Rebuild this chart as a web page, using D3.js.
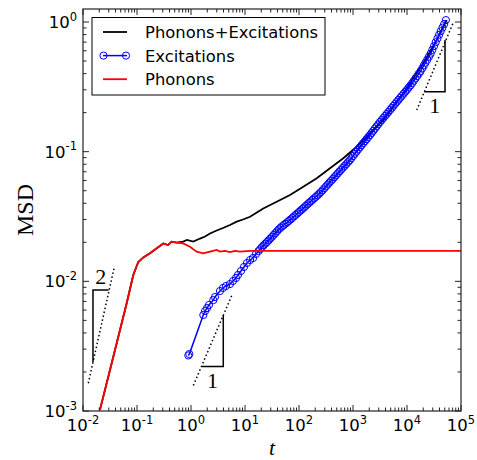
<!DOCTYPE html>
<html>
<head>
<meta charset="utf-8">
<script src="https://cdn.jsdelivr.net/npm/d3@7"></script>
<style>
  body { margin: 0; background: #fff; }
  svg text { font-family: 'DejaVu Sans', sans-serif; }
</style>
</head>
<body>
<svg id="chart" width="477" height="460"></svg>
<script>
// --- data ---
const phononsT = [0.0206, 0.0316, 0.0484, 0.0644, 0.0853, 0.1056, 0.1309, 0.174, 0.232, 0.307, 0.375, 0.438, 0.541,
  0.717, 0.957, 1.27, 1.68, 2.25, 3.00, 3.44, 4.25, 5.27, 6.52, 8.07, 12.4, 100000];
const phononsMsd = [0.00102, 0.00207, 0.00422, 0.00678, 0.0112, 0.0141, 0.01531, 0.01644, 0.01799, 0.01958, 0.01905, 0.02023, 0.01991,
  0.01963, 0.01849, 0.01695, 0.01644, 0.01695, 0.01746, 0.01695, 0.0172, 0.01683, 0.0172, 0.01695, 0.0172, 0.0172];

// shares the phonon curve up to t ~ 0.54
const bothT = [0.0206, 0.0316, 0.0484, 0.0644, 0.0853, 0.1056, 0.1309, 0.174, 0.232, 0.307, 0.375, 0.438, 0.541,
  0.717, 0.84, 1.10, 1.47, 1.82, 2.25, 2.99, 3.91, 5.27, 7.02, 9.18, 12.4, 21.8, 38.6, 68.1, 120, 213, 375, 661,
  1172, 2066, 3642, 8531, 20040, 35480, 54330];
const bothMsd = [0.00102, 0.00207, 0.00422, 0.00678, 0.0112, 0.0141, 0.01531, 0.01644, 0.01799, 0.01958, 0.01905, 0.02023, 0.01991,
  0.02028, 0.02084, 0.02023, 0.02138, 0.02218, 0.02339, 0.02466, 0.02578, 0.02719, 0.02884, 0.02999, 0.0315, 0.03645, 0.04115, 0.04632,
  0.0537, 0.06232, 0.07447, 0.08893, 0.1092, 0.1387, 0.1754, 0.2818, 0.4799, 0.7261, 1.035];

const excitationsT = [0.891, 0.931, 1.69, 1.82, 1.98, 2.15, 2.59, 2.78, 3.44, 3.91, 4.45, 5.27, 6.00, 6.81, 7.41, 8.43, 9.58,
  10.9, 12.4, 14.1, 16.0,
  17.78, 19.11, 20.54, 22.07, 23.71, 25.48, 27.38, 29.43, 31.62, 33.98, 36.52, 39.24, 42.17, 45.32, 48.70, 52.33,
  56.23, 60.43, 64.94, 69.78, 74.99, 80.59, 86.60, 93.06, 100, 107.5, 115.5, 124.1, 133.4, 143.3, 154.0, 165.5,
  177.8, 191.1, 205.4, 220.7, 237.1, 254.8, 273.8, 294.3, 316.2, 339.8, 365.2, 392.4, 421.7, 453.2, 487.0, 523.3,
  562.3, 604.3, 649.4, 697.8, 749.9, 805.9, 866.0, 930.6, 1000, 1075, 1155, 1241, 1334, 1433, 1540, 1655, 1778,
  1911, 2054, 2207, 2371, 2548, 2738, 2943, 3162, 3398, 3652, 3924, 4217, 4532, 4870, 5233, 5623, 6043, 6494,
  6978, 7499, 8059, 8660, 9306, 10000, 10750, 11550, 12410, 13340, 14330, 15400, 16550, 17780, 19110, 20540,
  22070, 23710, 25480, 27380, 29430, 31620, 33980, 36520, 39240, 42170, 45320, 48700, 52500];
const excitationsMsd = [0.00268, 0.00275, 0.0055, 0.0059, 0.00622, 0.00657, 0.00717, 0.00757, 0.00842, 0.00889, 0.00921,
  0.00953, 0.01006, 0.01062, 0.0112, 0.01202, 0.01291, 0.01385, 0.0146, 0.01513, 0.01626,
  0.0171, 0.01772, 0.01837, 0.01893, 0.0195, 0.02009, 0.0207, 0.02138, 0.02208, 0.0228, 0.02355, 0.02435, 0.02518,
  0.02586, 0.02655, 0.0272, 0.02786, 0.02854, 0.02924, 0.03002, 0.03083, 0.03166, 0.03251, 0.03338, 0.03428, 0.0352,
  0.03614, 0.03715, 0.03819, 0.03926, 0.04036, 0.04145, 0.04256, 0.0437, 0.04487, 0.04613, 0.04742, 0.04892, 0.05047,
  0.05218, 0.05395, 0.05578, 0.05768, 0.05957, 0.06152, 0.06361, 0.06577, 0.068, 0.07031, 0.07269, 0.07516, 0.07762,
  0.08017, 0.08289, 0.0857, 0.08902, 0.09247, 0.09616, 0.1, 0.1039, 0.1079, 0.1119, 0.1161, 0.1203, 0.1247, 0.1293,
  0.134, 0.1393, 0.1449, 0.1507, 0.1567, 0.1629, 0.1694, 0.1756, 0.182, 0.1886, 0.1954, 0.2025, 0.2099, 0.2178,
  0.2259, 0.2341, 0.2427, 0.2515, 0.2606, 0.2701, 0.2799, 0.2901, 0.3006, 0.3119, 0.3236, 0.3373, 0.3516, 0.3669,
  0.3828, 0.3995, 0.4169, 0.4391, 0.4624, 0.4864, 0.5117, 0.5402, 0.5702, 0.6095, 0.6516, 0.6974, 0.7464, 0.7961,
  0.8492, 0.9047, 0.9638, 1.035];

// slope guides: dotted line ends, then the triangle corner points
const slope2Line = [[0.01254, 0.001637], [0.0375, 0.01259]];
const slope2Tri = [[0.01531, 0.00239], [0.01531, 0.00857], [0.0298, 0.00857]];
const slope1LowLine = [[1.104, 0.001574], [5.74, 0.00785]];
const slope1LowTri = [[1.58, 0.0022], [3.96, 0.0022], [3.96, 0.0055]];
const slope1HighLine = [[15140, 0.2094], [72600, 1.0]];
const slope1HighTri = [[20890, 0.2897], [50580, 0.2897], [50580, 0.7261]];

const xExps = [-2, -1, 0, 1, 2, 3, 4, 5];
const yExps = [-3, -2, -1, 0];
const legendItems = ['Phonons+Excitations', 'Excitations', 'Phonons'];

// --- layout ---
const w = 477;
const h = 460;
const margin = { top: 9, right: 16, bottom: 49, left: 83 };
const x0 = margin.left, x1 = w - margin.right;
const y0 = h - margin.bottom, y1 = margin.top;

const xScale = d3.scaleLog().domain([1e-2, 1e5]).range([x0, x1]);
const yScale = d3.scaleLog().domain([1e-3, 1.26]).range([y0, y1]);

const svg = d3.select('#chart');

svg.append('defs').append('clipPath')
  .attr('id', 'plot-clip')
  .append('rect')
  .attr('x', x0).attr('y', y1)
  .attr('width', x1 - x0).attr('height', y0 - y1);

const zip = (a, b) => a.map((d, i) => [d, b[i]]);
const line = d3.line()
  .x(d => xScale(d[0]))
  .y(d => yScale(d[1]));

const plot = svg.append('g').attr('clip-path', 'url(#plot-clip)');

plot.append('path')
  .datum(zip(bothT, bothMsd))
  .attr('d', line)
  .attr('fill', 'none')
  .attr('stroke', '#000')
  .attr('stroke-width', 1.8);

const excData = zip(excitationsT, excitationsMsd);
plot.append('path')
  .datum(excData)
  .attr('d', line)
  .attr('fill', 'none')
  .attr('stroke', '#0000ff')
  .attr('stroke-width', 1.5);

plot.selectAll('circle.exc')
  .data(excData)
  .enter()
  .append('circle')
  .attr('class', 'exc')
  .attr('cx', d => xScale(d[0]))
  .attr('cy', d => yScale(d[1]))
  .attr('r', 3.6)
  .attr('fill', 'none')
  .attr('stroke', '#0000ff')
  .attr('stroke-width', 1);

plot.append('path')
  .datum(zip(phononsT, phononsMsd))
  .attr('d', line)
  .attr('fill', 'none')
  .attr('stroke', '#ff0000')
  .attr('stroke-width', 1.8);

// slope guides
[slope2Line, slope1LowLine, slope1HighLine].forEach(seg => {
  plot.append('path')
    .datum(seg)
    .attr('d', line)
    .attr('fill', 'none')
    .attr('stroke', '#000')
    .attr('stroke-width', 1.5)
    .attr('stroke-dasharray', '1.5,2.5');
});
[slope2Tri, slope1LowTri, slope1HighTri].forEach(tri => {
  plot.append('path')
    .datum(tri)
    .attr('d', line)
    .attr('fill', 'none')
    .attr('stroke', '#000')
    .attr('stroke-width', 1.5);
});

const serif = "'Liberation Serif', 'DejaVu Serif', serif";
const slopeLabels = [
  { text: '2', x: (xScale(slope2Tri[1][0]) + xScale(slope2Tri[2][0])) / 2, y: yScale(slope2Tri[1][1]) - 6 },
  { text: '1', x: (xScale(slope1LowTri[0][0]) + xScale(slope1LowTri[1][0])) / 2, y: yScale(slope1LowTri[0][1]) + 21 },
  { text: '1', x: (xScale(slope1HighTri[0][0]) + xScale(slope1HighTri[1][0])) / 2, y: yScale(slope1HighTri[0][1]) + 21 }
];
svg.selectAll('text.slope')
  .data(slopeLabels)
  .enter()
  .append('text')
  .attr('class', 'slope')
  .attr('x', d => d.x)
  .attr('y', d => d.y)
  .attr('text-anchor', 'middle')
  .style('font-family', serif)
  .style('font-size', '22px')
  .text(d => d.text);

// ticks on all four sides, pointing inward
const ticks = svg.append('g').attr('stroke', '#222').attr('stroke-width', 1);
const minorOf = (exps, lo, hi) => {
  const out = [];
  exps.forEach(e => [2, 3, 4, 5, 6, 7, 8, 9].forEach(m => {
    const v = m * Math.pow(10, e);
    if (v > lo && v < hi) out.push(v);
  }));
  return out;
};
const xMinor = minorOf(xExps, 1e-2, 1e5);
const yMinor = minorOf(yExps, 1e-3, 1.26);

xExps.map(e => [Math.pow(10, e), 6]).concat(xMinor.map(v => [v, 3.5])).forEach(([v, len]) => {
  const px = xScale(v);
  ticks.append('line').attr('x1', px).attr('x2', px).attr('y1', y0).attr('y2', y0 - len);
  ticks.append('line').attr('x1', px).attr('x2', px).attr('y1', y1).attr('y2', y1 + len);
});
yExps.map(e => [Math.pow(10, e), 6]).concat(yMinor.map(v => [v, 3.5])).forEach(([v, len]) => {
  const py = yScale(v);
  ticks.append('line').attr('y1', py).attr('y2', py).attr('x1', x0).attr('x2', x0 + len);
  ticks.append('line').attr('y1', py).attr('y2', py).attr('x1', x1).attr('x2', x1 - len);
});

svg.append('rect')
  .attr('x', x0).attr('y', y1)
  .attr('width', x1 - x0).attr('height', y0 - y1)
  .attr('fill', 'none')
  .attr('stroke', '#222')
  .attr('stroke-width', 1.2);

// tick labels as 10^n
function powLabel(sel, e) {
  sel.append('tspan').text('10');
  sel.append('tspan')
    .attr('dy', -7.5)
    .style('font-size', '11.5px')
    .text(e < 0 ? '-' + (-e) : e);
}
xExps.forEach(e => {
  svg.append('text')
    .attr('x', xScale(Math.pow(10, e)))
    .attr('y', y0 + 20)
    .attr('text-anchor', 'middle')
    .style('font-size', '16.5px')
    .call(powLabel, e);
});
yExps.forEach(e => {
  svg.append('text')
    .attr('x', x0 - 6)
    .attr('y', yScale(Math.pow(10, e)) + 6)
    .attr('text-anchor', 'end')
    .style('font-size', '16.5px')
    .call(powLabel, e);
});

// axis titles
svg.append('text')
  .attr('x', (x0 + x1) / 2)
  .attr('y', 455)
  .attr('text-anchor', 'middle')
  .style('font-family', serif)
  .style('font-style', 'italic')
  .style('font-size', '22px')
  .text('t');
svg.append('text')
  .attr('transform', `translate(33, ${(y0 + y1) / 2}) rotate(-90)`)
  .attr('text-anchor', 'middle')
  .style('font-family', serif)
  .style('font-size', '24px')
  .text('MSD');

// legend
const legend = svg.append('g').attr('class', 'legend');
legend.append('rect')
  .attr('x', 92).attr('y', 17.5)
  .attr('width', 233).attr('height', 77.5)
  .attr('fill', '#fff')
  .attr('stroke', '#000')
  .attr('stroke-width', 1);
const legendColors = ['#000', '#0000ff', '#ff0000'];
legendItems.forEach((label, i) => {
  const cy = 32 + i * 23.6;
  legend.append('line')
    .attr('x1', 103).attr('x2', 127)
    .attr('y1', cy).attr('y2', cy)
    .attr('stroke', legendColors[i])
    .attr('stroke-width', i === 1 ? 1.5 : 1.8);
  if (i === 1) {
    [103.5, 126].forEach(cx => legend.append('circle')
      .attr('cx', cx).attr('cy', cy).attr('r', 3.6)
      .attr('fill', 'none').attr('stroke', '#0000ff').attr('stroke-width', 1));
  }
  legend.append('text')
    .attr('x', 145)
    .attr('y', cy + 6)
    .style('font-size', '16.4px')
    .text(label);
});
</script>
</body>
</html>
